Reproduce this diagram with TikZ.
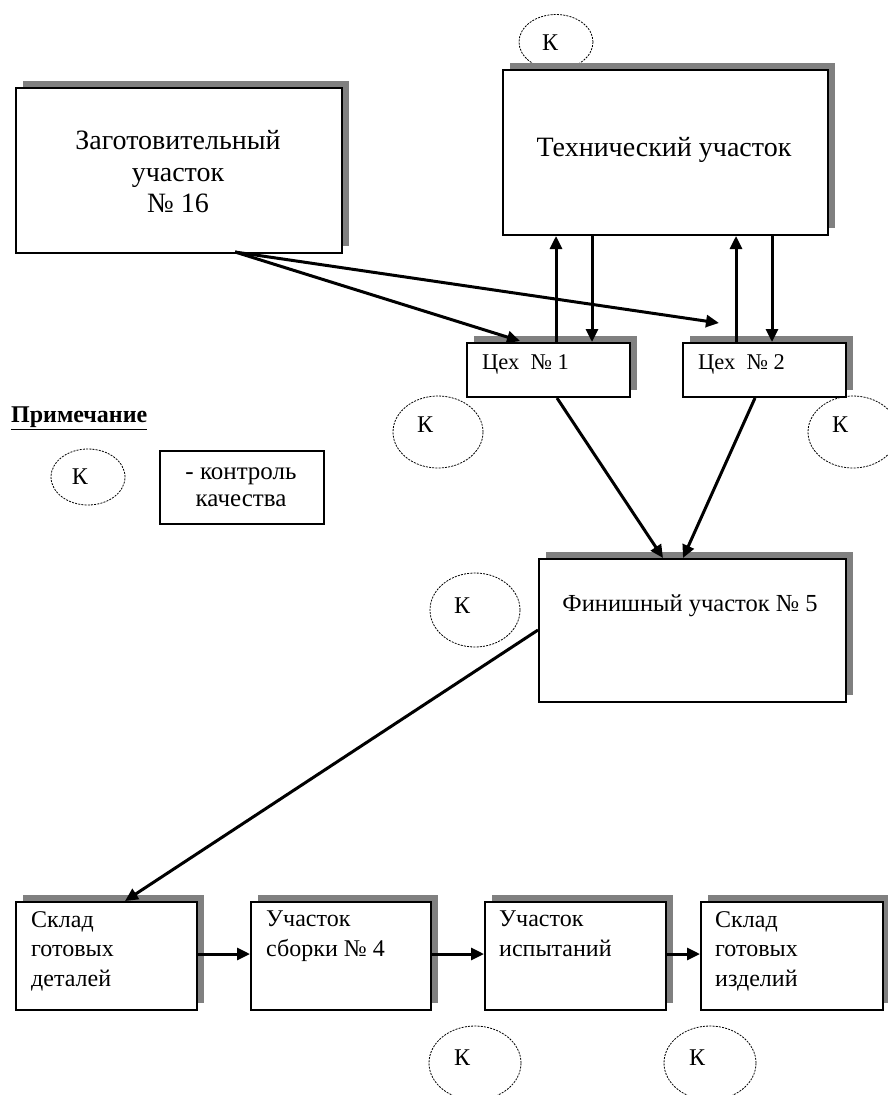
\documentclass[tikz,border=0pt]{standalone}
\usepackage{fontspec}
\setmainfont{Liberation Serif}
\usetikzlibrary{shapes.geometric,arrows.meta,shadows,calc}
\begin{document}
\begin{tikzpicture}[x=1pt,y=-1pt,
 box/.style={draw, line width=2pt, fill=white, inner sep=0pt, anchor=north west,
   general shadow={shadow xshift=7pt, shadow yshift=7pt, fill=black!50}},
 plainbox/.style={draw, line width=2pt, fill=white, inner sep=0pt, anchor=north west},
 kell/.style={ellipse, draw, line width=0.8pt, dash pattern=on 2pt off 1.2pt, inner sep=0pt, fill=white},
 ktxt/.style={inner sep=0pt, font=\fontsize{24}{28}\selectfont},
 bigtxt/.style={inner sep=0pt, align=center, font=\fontsize{28}{31.5}\selectfont},
 smalltxt/.style={inner sep=0pt, align=left, anchor=north west, font=\fontsize{24}{29.5}\selectfont},
 arr/.style={line width=3pt, -{Triangle[length=13pt,width=12pt]}},
]
\useasboundingbox (0,0) rectangle (887,1095);

% quality-control ellipses
\node[kell, minimum width=74pt, minimum height=55pt] (kt) at (556,42) {};
\node[ktxt] at ([shift={(-6,1)}]kt.center) {К};
\node[kell, minimum width=90pt, minimum height=72pt] (k1) at (438,432) {};
\node[ktxt] at ([shift={(-13,-7)}]k1.center) {К};
\node[kell, minimum width=90pt, minimum height=72pt] (k2) at (853,432) {};
\node[ktxt] at ([shift={(-13,-7)}]k2.center) {К};
\node[kell, minimum width=90pt, minimum height=74pt] (kf) at (475,610) {};
\node[ktxt] at ([shift={(-13,-4)}]kf.center) {К};
\node[kell, minimum width=92pt, minimum height=74pt] (kb1) at (475,1063) {};
\node[ktxt] at ([shift={(-13,-5)}]kb1.center) {К};
\node[kell, minimum width=92pt, minimum height=74pt] (kb2) at (710,1063) {};
\node[ktxt] at ([shift={(-13,-5)}]kb2.center) {К};
\node[kell, minimum width=74pt, minimum height=56pt] (kl) at (88,477) {};
\node[ktxt] at ([shift={(-8,0)}]kl.center) {К};

% boxes
\node[box, minimum width=326pt, minimum height=165pt] (zag) at (15,87) {};
\node[bigtxt] at (178,172) {Заготовительный\\участок\\№ 16};
\node[box, minimum width=325pt, minimum height=165pt] (tech) at (502,69) {};
\node[bigtxt] at (664,150) {Технический участок};
\node[box, minimum width=163pt, minimum height=54pt] (c1) at (466,342) {};
\node[smalltxt, anchor=west, font=\fontsize{22.5}{26}\selectfont] at (482,364) {Цех \ № 1};
\node[box, minimum width=163pt, minimum height=54pt] (c2) at (682,342) {};
\node[smalltxt, anchor=west, font=\fontsize{22.5}{26}\selectfont] at (698,364) {Цех \ № 2};
\node[box, minimum width=307pt, minimum height=143pt] (fin) at (538,558) {};
\node[bigtxt, font=\fontsize{24.5}{29}\selectfont] at (690,606) {Финишный участок № 5};

\node[box, minimum width=181pt, minimum height=108pt] (s1) at (15,901) {};
\node[smalltxt] at ([shift={(16,10)}]s1.north west) {Склад\\готовых\\деталей};
\node[box, minimum width=180pt, minimum height=108pt] (s2) at (250,901) {};
\node[smalltxt] at ([shift={(16,10)}]s2.north west) {Участок\\сборки № 4};
\node[box, minimum width=181pt, minimum height=108pt] (s3) at (484,901) {};
\node[smalltxt] at ([shift={(15,10)}]s3.north west) {Участок\\испытаний};
\node[box, minimum width=182pt, minimum height=108pt] (s4) at (700,901) {};
\node[smalltxt] at ([shift={(15,10)}]s4.north west) {Склад\\готовых\\изделий};

% legend
\node[inner sep=0pt, anchor=west, font=\fontsize{24}{28}\selectfont\bfseries] (note) at (11,418) {\underline{Примечание}};
\node[plainbox, minimum width=164pt, minimum height=73pt] (lg) at (159,450) {};
\node[inner sep=0pt, align=center, font=\fontsize{25}{27}\selectfont] at (241,487) {- контроль\\качества};

% connectors
\coordinate (zs) at (235,252);
\coordinate (z2end) at (719,323);
\draw[arr] (zs) -- (520,341);
\draw[arr] (zs) -- (z2end);
\draw[arr] (c1.north -| 556,0) -- (tech.south -| 556,0);
\draw[arr] (tech.south -| 592,0) -- (c1.north -| 592,0);
\draw[arr] (c2.north -| 736,0) -- (tech.south -| 736,0);
\draw[arr] (tech.south -| 772,0) -- (c2.north -| 772,0);
\draw[arr] (c1.south -| 557,0) -- (fin.north -| 663,0);
\draw[arr] (c2.south -| 755,0) -- (fin.north -| 683,0);
\draw[arr] (fin.west |- 0,630) -- (s1.north -| 125,0);
\draw[arr] (s1.east |- 0,954) -- (s2.west |- 0,954);
\draw[arr] (s2.east |- 0,954) -- (s3.west |- 0,954);
\draw[arr] (s3.east |- 0,954) -- (s4.west |- 0,954);
\end{tikzpicture}
\end{document}
